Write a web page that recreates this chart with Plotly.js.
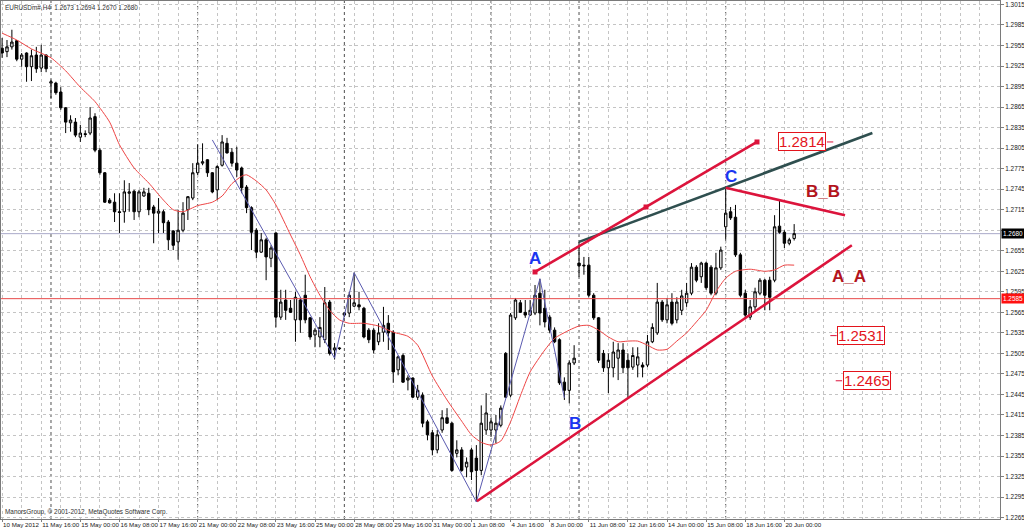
<!DOCTYPE html>
<html><head><meta charset="utf-8">
<script src="https://cdn.plot.ly/plotly-3.0.1.min.js"></script>
<style>html,body{margin:0;padding:0;background:#fff}#chart{width:1024px;height:532px}</style>
</head><body><div id="chart"></div>
<script>
const symbolName = 'EURUSDm#,H4';
const opens = [1.2951,1.2946,1.2953,1.2962,1.2935,1.2944,1.2924,1.2941,1.2922,1.2941,
1.2900,1.2900,1.2887,1.2864,1.2842,1.2843,1.2821,1.2826,1.2827,1.2851,
1.2802,1.2769,1.2729,1.2726,1.2712,1.2712,1.2739,1.2742,1.2712,1.2735,
1.2739,1.2719,1.2710,1.2712,1.2697,1.2684,1.2668,1.2685,1.2715,1.2732,
1.2769,1.2783,1.2788,1.2769,1.2744,1.2780,1.2812,1.2799,1.2783,1.2776,
1.2748,1.2718,1.2685,1.2653,1.2671,1.2644,1.2681,1.2558,1.2583,1.2571,
1.2554,1.2583,1.2590,1.2557,1.2532,1.2529,1.2525,1.2580,1.2510,1.2513,
1.2561,1.2564,1.2574,1.2576,1.2571,1.2539,1.2539,1.2522,1.2536,1.2549,
1.2536,1.2481,1.2502,1.2466,1.2469,1.2441,1.2444,1.2405,1.2389,1.2364,
1.2393,1.2411,1.2403,1.2359,1.2364,1.2339,1.2364,1.2352,1.2334,1.2393,
1.2393,1.2393,1.2400,1.2505,1.2444,1.2557,1.2579,1.2565,1.2561,1.2564,
1.2593,1.2571,1.2558,1.2539,1.2525,1.2463,1.2451,1.2491,1.2637,1.2634,
1.2634,1.2590,1.2557,1.2505,1.2484,1.2484,1.2498,1.2510,1.2495,1.2485,
1.2488,1.2488,1.2488,1.2522,1.2535,1.2580,1.2554,1.2580,1.2554,1.2568,
1.2579,1.2593,1.2631,1.2617,1.2637,1.2631,1.2593,1.2630,1.2690,1.2712,
1.2704,1.2649,1.2593,1.2558,1.2573,1.2593,1.2612,1.2612,1.2612,1.2691,
1.2682,1.2666,1.2673];
const highs = [1.2966,1.2963,1.2978,1.2963,1.2944,1.2945,1.2949,1.2953,1.2956,1.2942,
1.2905,1.2902,1.2894,1.2865,1.2853,1.2849,1.2839,1.2831,1.2865,1.2856,
1.2805,1.2770,1.2732,1.2739,1.2739,1.2758,1.2754,1.2744,1.2744,1.2747,
1.2747,1.2722,1.2732,1.2715,1.2700,1.2685,1.2715,1.2726,1.2735,1.2783,
1.2810,1.2812,1.2789,1.2770,1.2780,1.2824,1.2820,1.2805,1.2807,1.2778,
1.2751,1.2720,1.2688,1.2681,1.2674,1.2663,1.2682,1.2598,1.2598,1.2583,
1.2595,1.2587,1.2620,1.2558,1.2542,1.2558,1.2602,1.2583,1.2520,1.2514,
1.2565,1.2595,1.2623,1.2595,1.2573,1.2542,1.2542,1.2549,1.2573,1.2561,
1.2539,1.2502,1.2505,1.2473,1.2470,1.2459,1.2448,1.2408,1.2393,1.2393,
1.2422,1.2425,1.2405,1.2378,1.2368,1.2353,1.2367,1.2371,1.2429,1.2447,
1.2411,1.2415,1.2429,1.2507,1.2564,1.2586,1.2583,1.2583,1.2583,1.2605,
1.2614,1.2598,1.2561,1.2543,1.2527,1.2470,1.2495,1.2517,1.2668,1.2646,
1.2646,1.2593,1.2558,1.2510,1.2505,1.2522,1.2520,1.2520,1.2505,1.2514,
1.2514,1.2492,1.2532,1.2549,1.2608,1.2583,1.2586,1.2593,1.2587,1.2598,
1.2608,1.2637,1.2634,1.2639,1.2639,1.2634,1.2652,1.2661,1.2747,1.2719,
1.2722,1.2652,1.2598,1.2583,1.2601,1.2615,1.2614,1.2617,1.2707,1.2729,
1.2685,1.2674,1.2694];
const lows = [1.2937,1.2938,1.2949,1.2932,1.2924,1.2902,1.2903,1.2915,1.2916,1.2916,
1.2878,1.2883,1.2861,1.2827,1.2829,1.2821,1.2814,1.2821,1.2824,1.2799,
1.2766,1.2725,1.2724,1.2697,1.2681,1.2696,1.2712,1.2700,1.2704,1.2734,
1.2707,1.2666,1.2681,1.2681,1.2656,1.2656,1.2642,1.2682,1.2700,1.2729,
1.2766,1.2780,1.2763,1.2739,1.2729,1.2778,1.2797,1.2778,1.2763,1.2739,
1.2710,1.2656,1.2644,1.2652,1.2612,1.2631,1.2543,1.2554,1.2554,1.2564,
1.2522,1.2535,1.2549,1.2525,1.2514,1.2514,1.2520,1.2502,1.2496,1.2510,
1.2558,1.2558,1.2573,1.2568,1.2527,1.2520,1.2505,1.2517,1.2522,1.2510,
1.2462,1.2473,1.2462,1.2451,1.2440,1.2437,1.2397,1.2378,1.2356,1.2359,
1.2389,1.2402,1.2332,1.2353,1.2332,1.2324,1.2320,1.2288,1.2327,1.2386,
1.2383,1.2374,1.2397,1.2440,1.2441,1.2554,1.2564,1.2557,1.2560,1.2561,
1.2546,1.2543,1.2535,1.2520,1.2459,1.2437,1.2432,1.2488,1.2617,1.2620,
1.2587,1.2554,1.2491,1.2478,1.2447,1.2470,1.2466,1.2476,1.2441,1.2481,
1.2470,1.2470,1.2485,1.2520,1.2532,1.2551,1.2549,1.2546,1.2549,1.2561,
1.2573,1.2590,1.2609,1.2608,1.2598,1.2590,1.2590,1.2627,1.2671,1.2700,
1.2646,1.2587,1.2557,1.2554,1.2568,1.2590,1.2568,1.2568,1.2609,1.2680,
1.2659,1.2663,1.2670];
const closes = [1.2944,1.2953,1.2960,1.2935,1.2941,1.2924,1.2940,1.2921,1.2941,1.2921,
1.2902,1.2886,1.2864,1.2843,1.2846,1.2824,1.2827,1.2825,1.2849,1.2802,
1.2769,1.2726,1.2725,1.2712,1.2711,1.2741,1.2741,1.2712,1.2741,1.2741,
1.2715,1.2710,1.2713,1.2696,1.2671,1.2663,1.2685,1.2710,1.2734,1.2769,
1.2783,1.2785,1.2769,1.2741,1.2778,1.2814,1.2798,1.2783,1.2773,1.2747,
1.2718,1.2682,1.2653,1.2671,1.2646,1.2659,1.2558,1.2580,1.2568,1.2565,
1.2587,1.2554,1.2554,1.2529,1.2539,1.2543,1.2579,1.2505,1.2513,1.2512,
1.2564,1.2590,1.2579,1.2573,1.2529,1.2525,1.2510,1.2535,1.2546,1.2535,
1.2478,1.2500,1.2463,1.2469,1.2441,1.2451,1.2403,1.2386,1.2364,1.2386,
1.2411,1.2403,1.2334,1.2364,1.2334,1.2346,1.2332,1.2334,1.2403,1.2418,
1.2405,1.2403,1.2425,1.2441,1.2561,1.2583,1.2565,1.2561,1.2568,1.2590,
1.2564,1.2551,1.2539,1.2522,1.2462,1.2451,1.2491,1.2498,1.2633,1.2633,
1.2590,1.2557,1.2495,1.2484,1.2495,1.2507,1.2510,1.2484,1.2484,1.2502,
1.2500,1.2485,1.2522,1.2543,1.2580,1.2554,1.2576,1.2549,1.2580,1.2589,
1.2593,1.2631,1.2612,1.2637,1.2601,1.2593,1.2630,1.2656,1.2710,1.2703,
1.2649,1.2590,1.2561,1.2573,1.2595,1.2612,1.2590,1.2587,1.2690,1.2682,
1.2666,1.2671,1.2680];

const dateLabels = ['10 May 2012','11 May 16:00','15 May 00:00','16 May 08:00','17 May 16:00','21 May 00:00','22 May 08:00','23 May 16:00','25 May 00:00','28 May 08:00','29 May 16:00','31 May 00:00','1 Jun 08:00','4 Jun 16:00','8 Jun 00:00','11 Jun 08:00','12 Jun 16:00','14 Jun 00:00','15 Jun 08:00','18 Jun 16:00','20 Jun 00:00'];
const dateLabelBars = [0,8,16,24,32,40,48,56,64,72,80,88,96,104,112,120,128,136,144,152,160];
const weekStartBars = [10,40,70,100,118,148];
const priceTicks = [1.2265,1.2295,1.2325,1.2355,1.2385,1.2415,1.2445,1.2475,1.2505,1.2535,1.2565,1.2595,1.2625,1.2655,1.2685,1.2715,1.2745,1.2775,1.2805,1.2835,1.2865,1.2895,1.2925,1.2955,1.2985,1.3015];

const maBars = [0,3,6,10,13,16,19,22,24,27,30,33,35,37,40,43,45,47,49,50,52,54,56,59,61,63,65,67,69,71,74,77,80,83,85,88,91,94,96,98,100,102,104,106,108,111,113,116,118,120,122,124,126,128,130,132,134,136,138,140,142,144,146,148,150,153,156,158,160,162];
const maValues = [1.2973,1.2963,1.2950,1.2937,1.2918,1.2894,1.2873,1.2843,1.2810,1.2776,1.2754,1.2729,1.2715,1.2712,1.2721,1.2726,1.2735,1.2753,1.2764,1.2766,1.2757,1.2744,1.2722,1.2678,1.2649,1.2617,1.2590,1.2568,1.2554,1.2549,1.2549,1.2545,1.2536,1.2530,1.2517,1.2472,1.2437,1.2406,1.2386,1.2375,1.2371,1.2377,1.2405,1.2443,1.2478,1.2510,1.2527,1.2539,1.2545,1.2546,1.2539,1.2529,1.2522,1.2523,1.2523,1.2517,1.2510,1.2511,1.2523,1.2535,1.2551,1.2568,1.2595,1.2615,1.2625,1.2628,1.2625,1.2627,1.2634,1.2634];

const zigzagBars = [43,68,72,97,110,115];
const zigzagPrices = [1.2817,1.2498,1.2623,1.2288,1.2614,1.2440];

const channelTopBars = [109,131.7,154.4];
const channelTopPrices = [1.2624,1.2719,1.2814];
const greenLineBars = [118,178];
const greenLinePrices = [1.2668,1.2827];
const bbLineBars = [148,172.4];
const bbLinePrices = [1.2747,1.2707];
const aaLineBars = [97.1,173.8];
const aaLinePrices = [1.2289,1.2663];

const horizontalLevel = 1.2585;
const letterLabels = ['A','B','C'];
const letterBars = [109,117.2,149.1];
const letterPrices = [1.2643,1.2402,1.2763];
const nameLabels = ['B_B','A_A'];
const nameBars = [167.9,173.2];
const namePrices = [1.2742,1.2618];
const targetPrices = [1.2814,1.2531,1.2465];
const targetBars = [163.5,175.7,176.8];
const targetTickSide = ['right','left','left'];

const N = closes.length;
const bars = opens.map((_, i) => i);
const lastClose = closes[N-1];

const red = '#dc143c';
const traces = [
  {type:'scatter', mode:'lines', x:maBars, y:maValues, line:{color:'#ee4444', width:1, shape:'spline', smoothing:0.6}, hoverinfo:'skip'},
  {type:'candlestick', x:bars, open:opens, high:highs, low:lows, close:closes,
   increasing:{line:{color:'#000000', width:1}, fillcolor:'#f2f2f2'},
   decreasing:{line:{color:'#000000', width:1}, fillcolor:'#000000'},
   whiskerwidth:0, hoverinfo:'skip'},
  {type:'scatter', mode:'lines', x:zigzagBars, y:zigzagPrices, line:{color:'#5b5bb0', width:1}, hoverinfo:'skip'},
  {type:'scatter', mode:'lines', x:greenLineBars, y:greenLinePrices, line:{color:'#2f4f4f', width:2.6}, hoverinfo:'skip'},
  {type:'scatter', mode:'lines+markers', x:channelTopBars, y:channelTopPrices, line:{color:red, width:2.6},
   marker:{symbol:'square', size:5, color:red}, hoverinfo:'skip'},
  {type:'scatter', mode:'lines', x:bbLineBars, y:bbLinePrices, line:{color:red, width:2.6}, hoverinfo:'skip'},
  {type:'scatter', mode:'lines', x:aaLineBars, y:aaLinePrices, line:{color:red, width:2.6}, hoverinfo:'skip'}
];

const shapes = [];
weekStartBars.forEach(b => shapes.push({type:'line', xref:'x', yref:'paper', x0:b, x1:b, y0:0, y1:1,
  line:{color:'#505050', width:1, dash:'dot'}, layer:'below'}));
shapes.push({type:'line', xref:'paper', yref:'y', x0:0, x1:1, y0:horizontalLevel, y1:horizontalLevel, line:{color:'#e84a4a', width:1}});
shapes.push({type:'line', xref:'paper', yref:'y', x0:0, x1:1, y0:lastClose, y1:lastClose, line:{color:'#a9a9c9', width:1}, layer:'below'});
targetPrices.forEach((p, k) => {
  const x0 = targetTickSide[k] === 'right' ? targetBars[k] + 5.2 : targetBars[k] - 6.3;
  shapes.push({type:'line', xref:'x', yref:'y', x0:x0, x1:x0 + 1.3, y0:p, y1:p, line:{color:red, width:1}});
});

const labelFont = {family:'Liberation Sans, Arial, sans-serif', size:6.4, color:'#202020'};
const annotations = [];
annotations.push({xref:'paper', yref:'paper', x:0, y:1, xanchor:'left', yanchor:'top', xshift:2, yshift:-1, showarrow:false,
  text: symbolName + '  ' + [opens[N-1], highs[N-1], lows[N-1], closes[N-1]].map(v => v.toFixed(4)).join(' '),
  font:{family:'Liberation Sans, Arial, sans-serif', size:6.4, color:'#303030'}});
annotations.push({xref:'paper', yref:'paper', x:0, y:0, xanchor:'left', yanchor:'bottom', xshift:2, yshift:1, showarrow:false,
  text:'ManorsGroup, © 2001-2012, MetaQuotes Software Corp.', font:{family:'Liberation Sans, Arial, sans-serif', size:6.4, color:'#303030'}});
letterLabels.forEach((t, k) => annotations.push({xref:'x', yref:'y', x:letterBars[k], y:letterPrices[k], text:'<b>'+t+'</b>', showarrow:false,
  font:{family:'Liberation Sans, Arial, sans-serif', size:17, color:'#1a35f0'}}));
nameLabels.forEach((t, k) => annotations.push({xref:'x', yref:'y', x:nameBars[k], y:namePrices[k], text:'<b>'+t+'</b>', showarrow:false,
  font:{family:'Liberation Sans, Arial, sans-serif', size:17, color:'#b3141c'}}));
targetPrices.forEach((p, k) => annotations.push({xref:'x', yref:'y', x:targetBars[k], y:p, text:p.toFixed(4), showarrow:false,
  font:{family:'Liberation Sans, Arial, sans-serif', size:15, color:'#e3141c'}, bgcolor:'#ffffff', bordercolor:'#e3141c', borderwidth:1, borderpad:0}));
annotations.push({xref:'paper', yref:'y', x:1, y:lastClose, xanchor:'left', showarrow:false, text:lastClose.toFixed(4),
  font:{family:'Liberation Sans, Arial, sans-serif', size:6.4, color:'#ffffff'}, bgcolor:'#000000', borderpad:1, xshift:1});
annotations.push({xref:'paper', yref:'y', x:1, y:horizontalLevel, xanchor:'left', showarrow:false, text:horizontalLevel.toFixed(4),
  font:{family:'Liberation Sans, Arial, sans-serif', size:6.4, color:'#ffffff'}, bgcolor:'#ff1010', borderpad:1, xshift:1});

const priceTickText = priceTicks.map(v => Math.abs(v - lastClose) < 0.0012 ? '' : v.toFixed(4));

const layout = {
  width:1024, height:532,
  margin:{l:1, r:24, t:1, b:13},
  paper_bgcolor:'#ffffff', plot_bgcolor:'#ffffff',
  showlegend:false, hovermode:false,
  font:labelFont,
  xaxis:{range:[-0.225, 204.1], tickmode:'array', tickvals:dateLabelBars, ticktext:dateLabels,
    ticks:'outside', ticklen:2, tickcolor:'#808080', ticklabelposition:'outside right', tickangle:0,
    ticklabelstandoff:0,
    showgrid:true, gridcolor:'#c4c4c4', griddash:'dot', gridwidth:1,
    minor:{tickmode:'linear', tick0:0, dtick:4, showgrid:true, gridcolor:'#c4c4c4', griddash:'dot', ticks:''},
    showline:true, linecolor:'#7a7a7a', linewidth:1, mirror:true, zeroline:false,
    rangeslider:{visible:false}, tickfont:{family:'Liberation Sans, Arial, sans-serif', size:6.2, color:'#202020'}, fixedrange:true},
  yaxis:{range:[1.2263, 1.3020], side:'right', tickmode:'array', tickvals:priceTicks, ticktext:priceTickText,
    ticks:'outside', ticklen:3, tickcolor:'#808080',
    showgrid:true, gridcolor:'#c4c4c4', griddash:'dot', gridwidth:1,
    showline:true, linecolor:'#7a7a7a', linewidth:1, mirror:true, zeroline:false, tickfont:labelFont, fixedrange:true},
  shapes:shapes, annotations:annotations
};
Plotly.newPlot('chart', traces, layout, {displayModeBar:false, staticPlot:true});
</script></body></html>
